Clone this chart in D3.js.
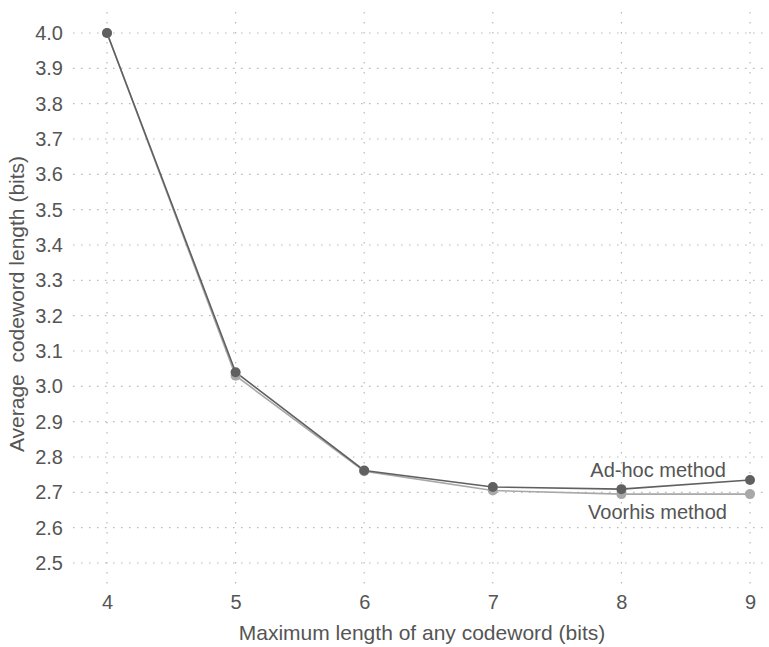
<!DOCTYPE html>
<html><head><meta charset="utf-8">
<script src="https://cdn.jsdelivr.net/npm/d3@7"></script>
<style>
body{margin:0;background:#fff;}
text{font-family:"Liberation Sans",Arial,Helvetica,sans-serif;fill:#555;}
</style></head>
<body>
<svg id="chart" width="769" height="647"></svg>
<script>
const maxLengths = [4, 5, 6, 7, 8, 9];
const adhoc = [4.0, 3.04, 2.762, 2.715, 2.709, 2.735];
const voorhis = [4.0, 3.03, 2.760, 2.705, 2.695, 2.695];
const yTicks = [2.5, 2.6, 2.7, 2.8, 2.9, 3.0, 3.1, 3.2, 3.3, 3.4, 3.5, 3.6, 3.7, 3.8, 3.9, 4.0];
const seriesNames = ["Ad-hoc method", "Voorhis method"];

const svg = d3.select("#chart");
const x = d3.scaleLinear().domain([4, 9]).range([107, 750]);
const y = d3.scaleLinear().domain([2.5, 4.0]).range([563, 33]);

// grid
const grid = svg.append("g");
grid.selectAll("line.h").data(yTicks).join("line")
  .attr("x1", 73).attr("x2", 769)
  .attr("y1", d => y(d)).attr("y2", d => y(d))
  .attr("stroke", "#b8b8b8").attr("stroke-width", 1.2)
  .attr("stroke-dasharray", "1.5,6.5");
grid.selectAll("line.v").data(maxLengths).join("line")
  .attr("x1", d => x(d)).attr("x2", d => x(d))
  .attr("y1", 12).attr("y2", 586)
  .attr("stroke", "#b8b8b8").attr("stroke-width", 1.2)
  .attr("stroke-dasharray", "1.5,8.5");

// axes (labels only)
const yAxis = svg.append("g").attr("transform", "translate(63,0)")
  .call(d3.axisLeft(y).tickValues(yTicks).tickFormat(d3.format(".1f")).tickSize(0).tickPadding(0));
yAxis.select(".domain").remove();
yAxis.selectAll("text").attr("font-size", 20).attr("fill", "#555")
  .attr("font-family", "Liberation Sans, Arial, sans-serif");

const xAxis = svg.append("g").attr("transform", "translate(0,595)")
  .call(d3.axisBottom(x).tickValues(maxLengths).tickFormat(d3.format("d")).tickSize(0).tickPadding(0));
xAxis.select(".domain").remove();
xAxis.selectAll("text").attr("font-size", 20).attr("fill", "#555")
  .attr("font-family", "Liberation Sans, Arial, sans-serif");

// axis titles
svg.append("text").attr("x", 422).attr("y", 640).attr("text-anchor", "middle")
  .attr("font-size", 21).text("Maximum length of any codeword (bits)");
svg.append("text").attr("transform", "translate(24,304) rotate(-90)")
  .attr("text-anchor", "middle").attr("font-size", 21)
  .style("white-space", "pre").text("Average  codeword length (bits)");

// lines
const line = d3.line().x((d, i) => x(maxLengths[i])).y(d => y(d));
const series = [
  {name: seriesNames[1], values: voorhis, color: "#a8a8a8"},
  {name: seriesNames[0], values: adhoc, color: "#606060"}
];
series.forEach(s => {
  svg.append("path").datum(s.values).attr("d", line)
    .attr("fill", "none").attr("stroke", s.color).attr("stroke-width", 1.6);
});
series.forEach(s => {
  svg.append("g").selectAll("circle").data(s.values).join("circle")
    .attr("cx", (d, i) => x(maxLengths[i])).attr("cy", d => y(d))
    .attr("r", 5).attr("fill", s.color);
});

// labels
svg.append("text").attr("x", 726).attr("y", 477).attr("text-anchor", "end")
  .attr("font-size", 20).attr("fill", "#555").text(seriesNames[0]);
svg.append("text").attr("x", 727).attr("y", 519).attr("text-anchor", "end")
  .attr("font-size", 20).attr("fill", "#555").text(seriesNames[1]);
</script>
</body></html>
